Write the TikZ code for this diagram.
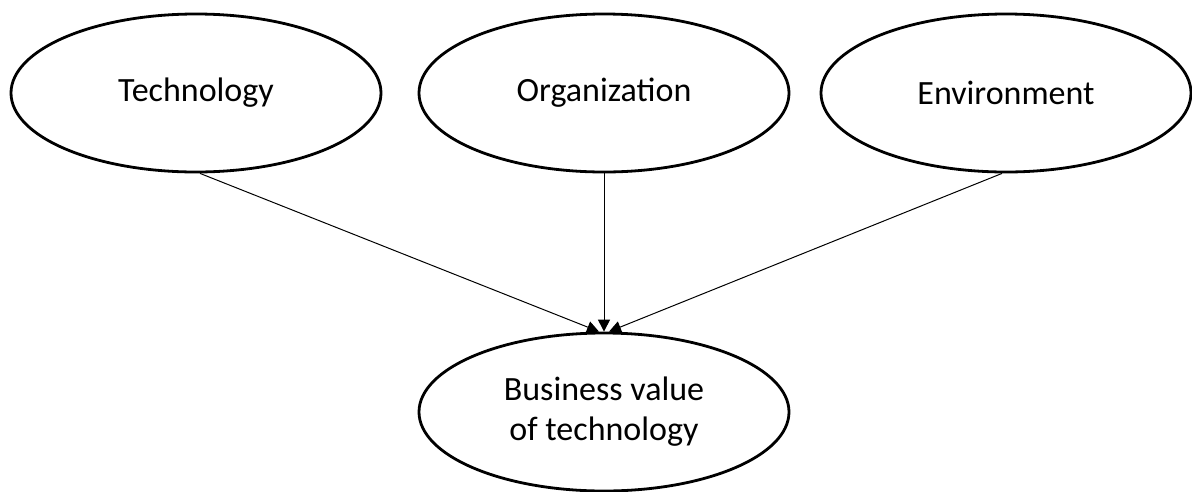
\documentclass[tikz,border=0pt]{standalone}
\usepackage{fontspec}
\setmainfont{Carlito}
\usetikzlibrary{shapes.geometric,arrows.meta}
\begin{document}
\begin{tikzpicture}[x=1pt,y=-1pt,
  oval/.style={ellipse,draw=black,line width=2.8pt,minimum width=370pt,minimum height=158pt,inner sep=0pt,align=center,font=\fontsize{34}{40}\selectfont},
  conn/.style={line width=1pt,-{Triangle[length=12pt,width=12pt]}}]
\useasboundingbox (0,0) rectangle (1192,491);
\node[oval] (tech) at (196,93) {Technology};
\node[oval] (org) at (604,93) {Organization};
\node[oval] (env) at (1006,93) {Environment};
\node[oval] (bv) at (604,412) {Business value\\of technology};
\draw[conn] (tech.south) ++(4,0) -- ([xshift=-5pt]bv.north);
\draw[conn] (org.south) -- (bv.north);
\draw[conn] (env.south) ++(-4,0) -- ([xshift=5pt]bv.north);
\end{tikzpicture}
\end{document}
